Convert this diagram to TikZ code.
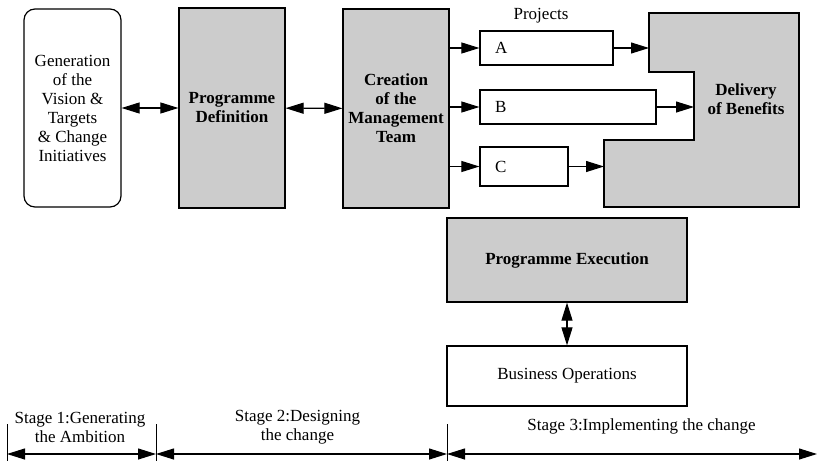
\documentclass[tikz,border=0pt]{standalone}
\usepackage{fontspec}
\setmainfont{Liberation Serif}
\usetikzlibrary{arrows.meta}
\begin{document}
\begin{tikzpicture}[x=1pt,y=-1pt,
  every node/.style={font=\fontsize{17}{19}\selectfont},
  box/.style={draw=black,line width=1.2pt,inner sep=0pt,align=center},
  grey/.style={box,fill=gray!40,font=\fontsize{17}{19}\selectfont\bfseries},
  proj/.style={draw=black,line width=1.2pt,inner ysep=0pt,inner xsep=15pt,align=left,minimum height=#1},
  tip/.tip={Triangle[length=18pt,width=11pt]},
  arr/.style={line width=1.1pt,-tip},
  darr/.style={line width=1.1pt,tip-tip},
  tick/.style={line width=0.9pt}]
\useasboundingbox (0,0) rectangle (817,461);
% left boxes
\node[box,rounded corners=11pt,minimum width=97pt,minimum height=198pt] (gen) at (72.5,108) {Generation\\of the\\Vision \&\\Targets\\\& Change\\Initiatives};
\node[grey,minimum width=106pt,minimum height=200pt] (pdef) at (232,108) {Programme\\Definition};
\node[grey,minimum width=106pt,minimum height=199pt] (cre) at (396,108.5) {Creation\\of the\\Management\\Team};
% projects
\node (projlbl) at (541,16) {Projects};
\node[proj=34pt,text width=103pt] (pa) at (546.5,48) {A};
\node[proj=34pt,text width=146pt] (pb) at (568,107) {B};
\node[proj=39pt,text width=58pt] (pc) at (524,166.5) {C};
% delivery
\draw[line width=1.2pt,fill=gray!40] (649,13) -- (799,13) -- (799,207) -- (604,207) -- (604,140) -- (694,140) -- (694,72) -- (649,72) -- cycle;
\node[font=\fontsize{17}{19}\selectfont\bfseries,align=center] (del) at (746,99) {Delivery\\of Benefits};
\coordinate (dA) at (649,48);
\coordinate (dB) at (694,107);
\coordinate (dC) at (604,166.5);
% execution
\node[grey,minimum width=240pt,minimum height=84pt] (exe) at (567,260) {Programme Execution};
\node[box,minimum width=240pt,minimum height=60pt] (bus) at (567,376) {Business Operations};
% connectors
\draw[darr] (gen) -- (pdef);
\draw[darr] (pdef) -- (cre);
\draw[arr] (cre.east |- pa) -- (pa);
\draw[arr] (cre.east |- pb) -- (pb);
\draw[arr] (cre.east |- pc) -- (pc);
\draw[arr] (pa) -- (dA);
\draw[arr] (pb) -- (dB);
\draw[arr] (pc) -- (dC);
\draw[darr] (exe) -- (bus);
% stages
\coordinate (t1) at (7,424);
\coordinate (t1b) at (7,461);
\coordinate (t2) at (156,424);
\coordinate (t2b) at (156,461);
\coordinate (t3) at (447,424);
\coordinate (t3b) at (447,461);
\coordinate (a1) at (7,454);
\coordinate (a2) at (156,454);
\coordinate (a3) at (447,454);
\coordinate (a4) at (817,454);
\draw[tick] (t1) -- (t1b);
\draw[tick] (t2) -- (t2b);
\draw[tick] (t3) -- (t3b);
\draw[darr] (a1) -- (a2);
\draw[darr] (a2) -- (a3);
\draw[darr] (a3) -- (a4);
\node[align=center] (s1) at (80,427.5) {Stage 1:Generating\\the Ambition};
\node[align=center] (s2) at (297.5,427.5) {Stage 2:Designing\\the change};
\node[align=center] (s3) at (641.5,426) {Stage 3:Implementing the change};
\end{tikzpicture}
\end{document}
